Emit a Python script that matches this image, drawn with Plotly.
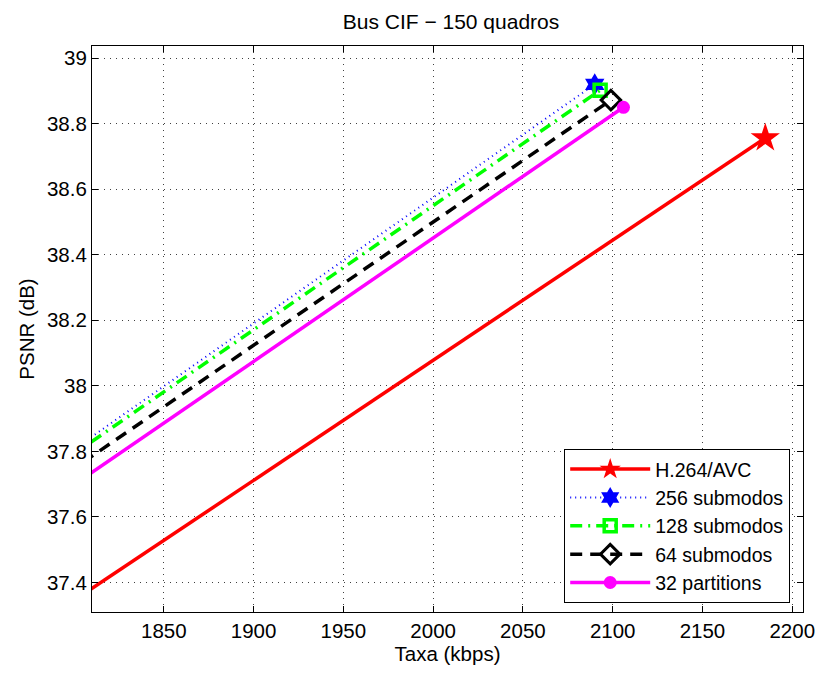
import plotly.graph_objects as go

# Rate (kbps) and PSNR (dB) for each coder configuration
rate_avc = [1750, 2185]
psnr_avc = [37.162, 38.756]

rate_256 = [1750, 2090]
psnr_256 = [37.615, 38.920]

rate_128 = [1750, 2093]
psnr_128 = [37.603, 38.902]

rate_64 = [1750, 2099]
psnr_64 = [37.560, 38.872]

rate_32 = [1750, 2106]
psnr_32 = [37.510, 38.850]

x_ticks = [1850, 1900, 1950, 2000, 2050, 2100, 2150, 2200]
y_ticks = [37.4, 37.6, 37.8, 38.0, 38.2, 38.4, 38.6, 38.8, 39.0]
y_tick_text = ["37.4", "37.6", "37.8", "38", "38.2", "38.4", "38.6", "38.8", "39"]

FONT = "Liberation Sans, Arial, Helvetica, sans-serif"

fig = go.Figure()

series = [
    ("H.264/AVC", rate_avc, psnr_avc, "#ff0000", "solid", 3.5,
     dict(symbol="star", size=22, color="#ff0000", line=dict(width=0))),
    ("256 submodos", rate_256, psnr_256, "#0000ff", "1px,4px", 2,
     dict(symbol="hexagram", size=17, color="#0000ff", line=dict(width=0))),
    ("128 submodos", rate_128, psnr_128, "#00ff00", "12px,6px,2px,6px", 3.5,
     dict(symbol="square-open", size=12, color="#00ff00", line=dict(width=3.5))),
    ("64 submodos", rate_64, psnr_64, "#000000", "12px,8px", 3.5,
     dict(symbol="diamond-open", size=15, color="#000000", line=dict(width=3))),
    ("32 partitions", rate_32, psnr_32, "#ff00ff", "solid", 3.5,
     dict(symbol="circle", size=13, color="#ff00ff", line=dict(width=0))),
]

for name, xs, ys, col, dash, lw, mk in series:
    fig.add_trace(go.Scatter(
        x=xs, y=ys, name=name, mode="lines+markers",
        line=dict(color=col, width=lw, dash=dash),
        marker=mk,
    ))

axis_common = dict(
    showline=True, linecolor="black", linewidth=1.2, mirror="ticks",
    ticks="inside", ticklen=6, tickcolor="black", tickwidth=1,
    showgrid=True, gridcolor="rgba(0,0,0,0.75)", gridwidth=1, griddash="1px,5px",
    zeroline=False, tickfont=dict(family=FONT, size=20.5, color="black"),
)

fig.update_xaxes(
    range=[1810, 2206], tickvals=x_ticks,
    title=dict(text="Taxa (kbps)", font=dict(family=FONT, size=20.5, color="black"), standoff=2),
    **axis_common,
)
fig.update_yaxes(
    range=[37.31, 39.037], tickvals=y_ticks, ticktext=y_tick_text,
    title=dict(text="PSNR (dB)", font=dict(family=FONT, size=20.5, color="black"), standoff=6),
    **axis_common,
)

fig.update_layout(
    width=827, height=673,
    margin=dict(l=92, r=17, t=46, b=61),
    paper_bgcolor="white", plot_bgcolor="white",
    title=dict(text="Bus CIF \u2212 150 quadros", x=(92 + 810) / 2 / 827, xanchor="center",
               y=1 - 22 / 673, yanchor="middle",
               font=dict(family=FONT, size=21, color="black")),
    legend=dict(
        x=0.982, y=0.016, xanchor="right", yanchor="bottom",
        bgcolor="white", bordercolor="black", borderwidth=1,
        font=dict(family=FONT, size=19.5, color="black"),
        itemwidth=80,
    ),
    showlegend=True,
)

fig.write_html("out.html")
